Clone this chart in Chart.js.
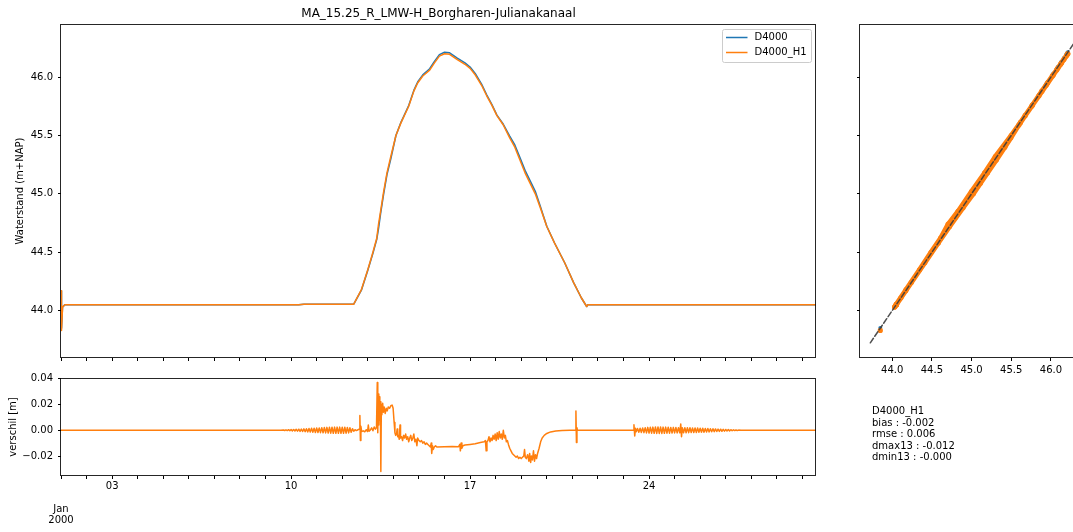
<!DOCTYPE html>
<html>
<head>
<meta charset="utf-8">
<script src="https://cdn.jsdelivr.net/npm/chart.js@4.4.1/dist/chart.umd.min.js"></script>
<style>
  html, body { margin: 0; padding: 0; background: #fff; overflow: hidden; }
  #fig { position: relative; width: 1073px; height: 532px; overflow: hidden; background: #fff; }
  #fig canvas { position: absolute; left: 0; top: 0; }
  #stats { position: absolute; left: 872px; top: 405px; font: 10px/11.5px 'DejaVu Sans', sans-serif; color: #000; white-space: pre; }
</style>
</head>
<body>
<div id="fig">
  <canvas id="levels" width="1073" height="532"></canvas>
  <canvas id="diff" width="1073" height="532"></canvas>
  <canvas id="scatter" width="1100" height="532"></canvas>
  <div id="stats"></div>
</div>
<script>
// ---- data -------------------------------------------------------------
const stationName = 'MA_15.25_R_LMW-H_Borgharen-Julianakanaal';
const seriesNames = ['D4000', 'D4000_H1'];

// time in days since 2000-01-01 00:00
const dayRange = [0, 29.53];
const dayTicks = [0, 1, 2, 3, 4, 5, 6, 7, 8, 9, 10, 11, 12, 13, 14, 15, 16, 17, 18, 19, 20, 21, 22, 23, 24, 25, 26, 27, 28, 29];
const weekTickDays = [2, 9, 16, 23];
const weekTickLabels = ['03', '10', '17', '24'];
const monthTickLabel = ['', '', 'Jan', '2000'];

// water level (m+NAP)
const levelRange = [43.594, 46.455];
const levelTicks = [44.0, 44.5, 45.0, 45.5, 46.0];
const levelDays = [0.00, 0.02, 0.06, 0.15, 9.30, 9.50, 11.45, 11.75, 12.00, 12.20,
  12.35, 12.42, 12.50, 12.62, 12.75, 12.90, 13.10, 13.30, 13.60, 13.80,
  13.95, 14.15, 14.42, 14.60, 14.80, 15.00, 15.20, 15.50, 15.80, 16.00,
  16.20, 16.45, 16.65, 16.85, 17.05, 17.30, 17.55, 17.75, 17.95, 18.15,
  18.35, 18.55, 18.75, 19.00, 19.30, 19.70, 20.05, 20.35, 20.56, 20.60, 29.53];
const levelD4000 = [44.17, 43.85, 44.03, 44.05, 44.05, 44.055, 44.055, 44.175, 44.345, 44.49,
  44.61, 44.705, 44.83, 45.00, 45.165, 45.30, 45.50, 45.615, 45.757, 45.886,
  45.958, 46.019, 46.072, 46.133, 46.193, 46.213, 46.208, 46.163, 46.122, 46.086,
  46.031, 45.94, 45.849, 45.767, 45.675, 45.596, 45.494, 45.419, 45.311, 45.201,
  45.111, 45.022, 44.892, 44.723, 44.581, 44.41, 44.24, 44.11, 44.035, 44.05, 44.05];
const levelH1 = [44.17, 43.83, 44.03, 44.05, 44.05, 44.055, 44.055, 44.18, 44.35, 44.50,
  44.62, 44.74, 44.85, 45.02, 45.18, 45.32, 45.50, 45.61, 45.75, 45.88,
  45.95, 46.01, 46.06, 46.12, 46.18, 46.20, 46.195, 46.15, 46.11, 46.075,
  46.02, 45.93, 45.84, 45.76, 45.67, 45.59, 45.48, 45.40, 45.29, 45.18,
  45.09, 45.00, 44.88, 44.72, 44.58, 44.41, 44.24, 44.11, 44.035, 44.05, 44.05];
const oneToOne = [43.724, 46.325];

// difference D4000_H1 - D4000 (m), [day, value]
const diffRange = [-0.0355, 0.0405];
const diffTicks = [-0.02, 0.00, 0.02, 0.04];
const diffBefore = [[0, 0], [8.6, 0], [8.7, 0.0002], [8.75, -0.0002], [8.8, 0.0003], [8.85, -0.0003],
  [8.9, 0.0004], [8.95, -0.0004], [9.0, 0.0005], [9.05, -0.0005], [9.1, 0.0006], [9.15, -0.0006],
  [9.2, 0.0007], [9.25, -0.0007], [9.3, 0.0008], [9.35, -0.0009], [9.4, 0.0009], [9.45, -0.001],
  [9.5, 0.0011], [9.55, -0.0011], [9.6, 0.0012], [9.65, -0.0013], [9.7, 0.0013], [9.75, -0.0014],
  [9.8, 0.0015], [9.85, -0.0015], [9.9, 0.0016], [9.95, -0.0017], [10.0, 0.0017], [10.05, -0.0018],
  [10.1, 0.0018], [10.15, -0.0019], [10.2, 0.002], [10.25, -0.002], [10.3, 0.0021], [10.35, -0.0021],
  [10.4, 0.0022], [10.45, -0.0022], [10.5, 0.0023], [10.55, -0.0023], [10.6, 0.0023], [10.65, -0.0024],
  [10.7, 0.0024], [10.75, -0.0024], [10.8, 0.0024], [10.85, -0.0024], [10.9, 0.0024], [10.95, -0.0024],
  [11.0, 0.0023], [11.05, -0.0024], [11.1, 0.0023], [11.15, -0.0023], [11.2, 0.0022], [11.25, -0.0021],
  [11.3, 0.0019], [11.35, -0.0016], [11.4, 0.0012], [11.45, -0.0008], [11.5, 0.0004], [11.55, -0.0003],
  [11.6, 0.0002], [11.66, 0.0008]];
const diffRise = [[11.69, 0.0115], [11.71, -0.008], [11.73, 0.003], [11.76, -0.001], [11.82, -0.0005],
  [11.88, -0.0012], [11.94, 0.0004], [11.99, -0.001], [12.02, 0.004], [12.05, -0.0008], [12.1, 0.0002],
  [12.15, 0.0018], [12.2, -0.0004], [12.25, 0.0025], [12.3, 0.0008], [12.34, 0.002], [12.37, 0.037],
  [12.39, -0.002], [12.41, 0.028], [12.43, 0.004], [12.45, 0.026], [12.47, 0.008], [12.49, 0.022],
  [12.51, -0.032], [12.53, 0.02], [12.55, 0.012], [12.58, 0.021], [12.61, 0.014], [12.64, 0.018],
  [12.68, 0.013], [12.72, 0.017], [12.76, 0.015], [12.8, 0.018], [12.85, 0.017], [12.9, 0.019],
  [12.95, 0.0195], [12.99, 0.017], [13.03, 0.006], [13.06, -0.002]];
const diffPeak = [[13.09, -0.004], [13.12, -0.003], [13.15, 0.001], [13.17, -0.005], [13.2, -0.004],
  [13.23, -0.007], [13.26, 0.004], [13.28, -0.006], [13.32, -0.005], [13.36, -0.008], [13.4, -0.004],
  [13.44, -0.006], [13.48, -0.003], [13.52, -0.007], [13.56, -0.005], [13.6, -0.009], [13.64, -0.006],
  [13.68, -0.004], [13.72, -0.008], [13.76, -0.006], [13.8, -0.003], [13.84, -0.009], [13.88, -0.007],
  [13.92, -0.012], [13.95, -0.006], [14.0, -0.008], [14.05, -0.009], [14.1, -0.008], [14.15, -0.010],
  [14.2, -0.009], [14.25, -0.011], [14.3, -0.010], [14.35, -0.011], [14.4, -0.012], [14.45, -0.013],
  [14.48, -0.010], [14.5, -0.018], [14.53, -0.012], [14.56, -0.015], [14.6, -0.013], [14.65, -0.012],
  [14.7, -0.013], [15.0, -0.0128], [15.3, -0.0127], [15.55, -0.0128], [15.6, -0.011], [15.62, -0.016],
  [15.65, -0.010], [15.68, -0.014], [15.72, -0.012], [15.8, -0.0115], [16.0, -0.011], [16.2, -0.0105],
  [16.4, -0.0095], [16.55, -0.009], [16.6, -0.008], [16.63, -0.016], [16.66, -0.009], [16.7, -0.008],
  [16.74, -0.005], [16.78, -0.009], [16.82, -0.006], [16.86, -0.008], [16.9, -0.004], [16.94, -0.007],
  [16.98, -0.003], [17.02, -0.008], [17.06, -0.002], [17.1, -0.007], [17.14, -0.001], [17.18, -0.006],
  [17.22, -0.003], [17.26, -0.007], [17.3, 0.0], [17.34, -0.006], [17.38, -0.004], [17.42, -0.009]];
const diffFall = [[17.46, -0.008], [17.5, -0.011], [17.55, -0.014], [17.6, -0.016], [17.65, -0.018],
  [17.7, -0.019], [17.75, -0.020], [17.8, -0.021], [17.85, -0.020], [17.9, -0.022], [17.95, -0.021],
  [18.0, -0.022], [18.05, -0.021], [18.1, -0.020], [18.13, -0.015], [18.16, -0.021], [18.2, -0.022],
  [18.25, -0.019], [18.3, -0.024], [18.33, -0.018], [18.37, -0.025], [18.4, -0.020], [18.44, -0.023],
  [18.48, -0.016], [18.52, -0.024], [18.56, -0.019], [18.6, -0.022], [18.64, -0.018], [18.7, -0.014],
  [18.76, -0.009], [18.82, -0.006], [18.9, -0.004], [19.0, -0.0025], [19.15, -0.0013], [19.35, -0.0006],
  [19.6, -0.0002], [19.9, 0], [20.12, 0], [20.14, 0.015], [20.16, -0.0095], [20.18, 0.002], [20.2, 0]];
const diffAfter = [[22.38, 0], [22.41, 0.0042], [22.44, -0.0045], [22.47, 0.0015], [22.5, -0.0012],
  [22.55, 0.0014], [22.6, -0.0015], [22.65, 0.0016], [22.7, -0.0017], [22.75, 0.0018], [22.8, -0.0019],
  [22.85, 0.002], [22.9, -0.0021], [22.95, 0.0022], [23.0, -0.0022], [23.05, 0.0023], [23.1, -0.0023],
  [23.15, 0.0024], [23.2, -0.0024], [23.25, 0.0025], [23.3, -0.0025], [23.35, 0.0025], [23.4, -0.0025],
  [23.45, 0.0025], [23.5, -0.0025], [23.55, 0.0024], [23.6, -0.0024], [23.65, 0.0024], [23.7, -0.0023],
  [23.75, 0.0023], [23.8, -0.0023], [23.85, 0.0022], [23.9, -0.0022], [23.95, 0.0022], [24.0, -0.0021],
  [24.05, 0.0021], [24.1, -0.0021], [24.15, 0.002], [24.2, -0.002], [24.24, 0.0048], [24.27, -0.005],
  [24.3, 0.002], [24.35, -0.002], [24.4, 0.002], [24.45, -0.002], [24.5, 0.0019], [24.55, -0.0019],
  [24.6, 0.0019], [24.65, -0.0018], [24.7, 0.0018], [24.75, -0.0018], [24.8, 0.0017], [24.85, -0.0017],
  [24.9, 0.0017], [24.95, -0.0016], [25.0, 0.0016], [25.05, -0.0015], [25.1, 0.0015], [25.15, -0.0015],
  [25.2, 0.0014], [25.25, -0.0014], [25.3, 0.0013], [25.35, -0.0013], [25.4, 0.0012], [25.45, -0.0012],
  [25.5, 0.0011], [25.55, -0.0011], [25.6, 0.001], [25.65, -0.001], [25.7, 0.0009], [25.75, -0.0009],
  [25.8, 0.0008], [25.85, -0.0008], [25.9, 0.0007], [25.95, -0.0007], [26.0, 0.0006], [26.05, -0.0006],
  [26.1, 0.0005], [26.15, -0.0005], [26.2, 0.0004], [26.25, -0.0004], [26.3, 0.0003], [26.35, -0.0003],
  [26.4, 0.0002], [26.45, -0.0002], [26.5, 0.0001], [26.6, 0], [29.53, 0]];

// summary statistics for D4000_H1
const statNames = ['bias', 'rmse', 'dmax13', 'dmin13'];
const statValues = ['-0.002', '0.006', '-0.012', '-0.000'];

// ---- styling helpers --------------------------------------------------
const ORANGE = '#ff7f0e';
const BLUE = '#1f77b4';
Chart.defaults.font.family = "'DejaVu Sans', sans-serif";
Chart.defaults.font.size = 10;
Chart.defaults.color = '#000';

const toPoints = (xs, ys) => xs.map((x, i) => ({ x, y: ys[i] }));
const pairPoints = pairs => pairs.map(([x, y]) => ({ x, y }));
const fixTicks = values => scale => { scale.ticks = values.map(v => ({ value: v })); };
const gridStyle = { drawOnChartArea: false, drawTicks: true, tickLength: 3, tickColor: '#000', tickWidth: 1 };
const noBorder = { display: false };
const baseOptions = {
  responsive: false, animation: false, devicePixelRatio: 1, events: [],
  elements: { point: { radius: 0 }, line: { borderWidth: 1.5, borderJoinStyle: 'round', borderCapStyle: 'round', tension: 0 } },
};
const dayLabel = v => {
  if (v === 0) return monthTickLabel;
  const i = weekTickDays.indexOf(v);
  return i >= 0 ? weekTickLabels[i] : '';
};
const diffLabel = v => (v < -1e-9 ? '\u2212' : '') + Math.abs(v).toFixed(2);

// axes box (all four spines)
const framePlugin = {
  id: 'frame',
  afterDatasetsDraw(chart) {
    const { ctx, chartArea: a } = chart;
    ctx.save();
    ctx.strokeStyle = 'rgba(0,0,0,0.85)';
    ctx.lineWidth = 1;
    ctx.strokeRect(a.left - 0.5, a.top + 0.5, a.right - a.left, a.bottom - a.top - 1);
    ctx.restore();
  }
};

// legend in the upper right corner of the level panel
const legendPlugin = {
  id: 'cornerLegend',
  afterDraw(chart) {
    const { ctx, chartArea: a } = chart;
    const w = 89, h = 33;
    const x0 = Math.round(a.right - 5.4 - w) + 0.5;
    const y0 = Math.round(a.top + 5.4) + 0.5;
    ctx.save();
    ctx.beginPath();
    ctx.roundRect(x0, y0, w, h, 2);
    ctx.fillStyle = 'rgba(255,255,255,0.8)';
    ctx.fill();
    ctx.strokeStyle = '#cccccc';
    ctx.lineWidth = 1;
    ctx.stroke();
    ctx.font = "10px 'DejaVu Sans', sans-serif";
    ctx.textBaseline = 'middle';
    ctx.textAlign = 'left';
    seriesNames.forEach((name, i) => {
      const ds = chart.data.datasets.find(d => d.label === name);
      const y = y0 + 8 + i * 15;
      ctx.beginPath();
      ctx.moveTo(x0 + 3.5, y);
      ctx.lineTo(x0 + 25, y);
      ctx.strokeStyle = ds.borderColor;
      ctx.lineWidth = 1.5;
      ctx.stroke();
      ctx.fillStyle = '#000';
      ctx.fillText(name, x0 + 32, y);
    });
    ctx.restore();
  }
};

// ---- water level time series -----------------------------------------
new Chart(document.getElementById('levels'), {
  type: 'line',
  data: {
    datasets: [
      { label: seriesNames[1], data: toPoints(levelDays, levelH1), borderColor: ORANGE, backgroundColor: ORANGE, order: 0 },
      { label: seriesNames[0], data: toPoints(levelDays, levelD4000), borderColor: BLUE, backgroundColor: BLUE, order: 1 }
    ]
  },
  options: {
    ...baseOptions,
    layout: { padding: { left: 0, top: 0, right: 257, bottom: 170 } },
    plugins: {
      legend: { display: false }, tooltip: { enabled: false },
      title: { display: true, text: stationName, fullSize: false, color: '#000',
               font: { size: 12, weight: 'normal' }, padding: { top: 6.8, bottom: 2.8 } }
    },
    scales: {
      x: { type: 'linear', min: dayRange[0], max: dayRange[1], afterBuildTicks: fixTicks(dayTicks),
           afterFit: s => { s.height = 4; }, ticks: { display: false, autoSkip: false },
           grid: gridStyle, border: noBorder },
      y: { type: 'linear', min: levelRange[0], max: levelRange[1], afterBuildTicks: fixTicks(levelTicks),
           afterFit: s => { s.width = 61; }, ticks: { callback: v => v.toFixed(1), padding: 5, autoSkip: false },
           grid: gridStyle, border: noBorder,
           title: { display: true, text: 'Waterstand (m+NAP)', padding: { top: 14.7, bottom: 0 } } }
    }
  },
  plugins: [framePlugin, legendPlugin]
});

// ---- difference time series ------------------------------------------
new Chart(document.getElementById('diff'), {
  type: 'line',
  data: {
    datasets: [
      { label: seriesNames[1],
        data: pairPoints([...diffBefore, ...diffRise, ...diffPeak, ...diffFall, ...diffAfter]),
        borderColor: ORANGE, backgroundColor: ORANGE }
    ]
  },
  options: {
    ...baseOptions,
    layout: { padding: { left: 0, top: 378, right: 257, bottom: 0 } },
    plugins: { legend: { display: false }, tooltip: { enabled: false } },
    scales: {
      x: { type: 'linear', min: dayRange[0], max: dayRange[1], afterBuildTicks: fixTicks(dayTicks),
           afterFit: s => { s.height = 56; },
           ticks: { autoSkip: false, maxRotation: 0, minRotation: 0, padding: 1.25,
                    font: { lineHeight: 1.15 }, callback: v => dayLabel(v) },
           grid: gridStyle, border: noBorder },
      y: { type: 'linear', min: diffRange[0], max: diffRange[1], afterBuildTicks: fixTicks(diffTicks),
           afterFit: s => { s.width = 61; }, ticks: { callback: v => diffLabel(v), padding: 5, autoSkip: false },
           grid: gridStyle, border: noBorder,
           title: { display: true, text: 'verschil [m]', padding: { top: 7.5, bottom: 0 } } }
    }
  },
  plugins: [framePlugin]
});

// ---- scatter D4000 vs D4000_H1 ---------------------------------------
const skipStart = ctx => levelDays[ctx.p1DataIndex] < 0.1 ? 'rgba(0,0,0,0)' : undefined;
new Chart(document.getElementById('scatter'), {
  type: 'scatter',
  data: {
    datasets: [
      { label: '1:1', data: oneToOne.map(v => ({ x: v, y: v })), showLine: true,
        borderColor: 'rgba(60,60,60,0.9)', borderWidth: 1.5, borderDash: [5.5, 2.4], pointRadius: 0, order: 0 },
      { label: seriesNames[1], data: toPoints(levelD4000, levelH1), showLine: true,
        borderColor: ORANGE, backgroundColor: ORANGE, borderWidth: 5, pointRadius: 2.6, pointBorderWidth: 0,
        segment: { borderColor: skipStart }, order: 1 },
      { label: seriesNames[0], data: toPoints(levelD4000, levelD4000), showLine: false,
        borderColor: BLUE, backgroundColor: BLUE, pointRadius: 2, pointBorderWidth: 0, order: 2 }
    ]
  },
  options: {
    ...baseOptions,
    layout: { padding: { left: 0, top: 24, right: 13, bottom: 144 } },
    plugins: { legend: { display: false }, tooltip: { enabled: false } },
    scales: {
      x: { type: 'linear', position: 'bottom', min: levelRange[0], max: levelRange[1], afterBuildTicks: fixTicks(levelTicks),
           afterFit: s => { s.height = 30; }, ticks: { callback: v => v.toFixed(1), padding: 3, autoSkip: false, maxRotation: 0 },
           grid: gridStyle, border: noBorder },
      y: { type: 'linear', min: levelRange[0], max: levelRange[1], afterBuildTicks: fixTicks(levelTicks),
           afterFit: s => { s.width = 860; }, ticks: { display: false },
           grid: gridStyle, border: noBorder }
    }
  },
  plugins: [framePlugin]
});

// ---- statistics block -------------------------------------------------
document.getElementById('stats').textContent =
  [seriesNames[1], ...statNames.map((n, i) => n + ' : ' + statValues[i])].join('\n');
</script>
</body>
</html>
